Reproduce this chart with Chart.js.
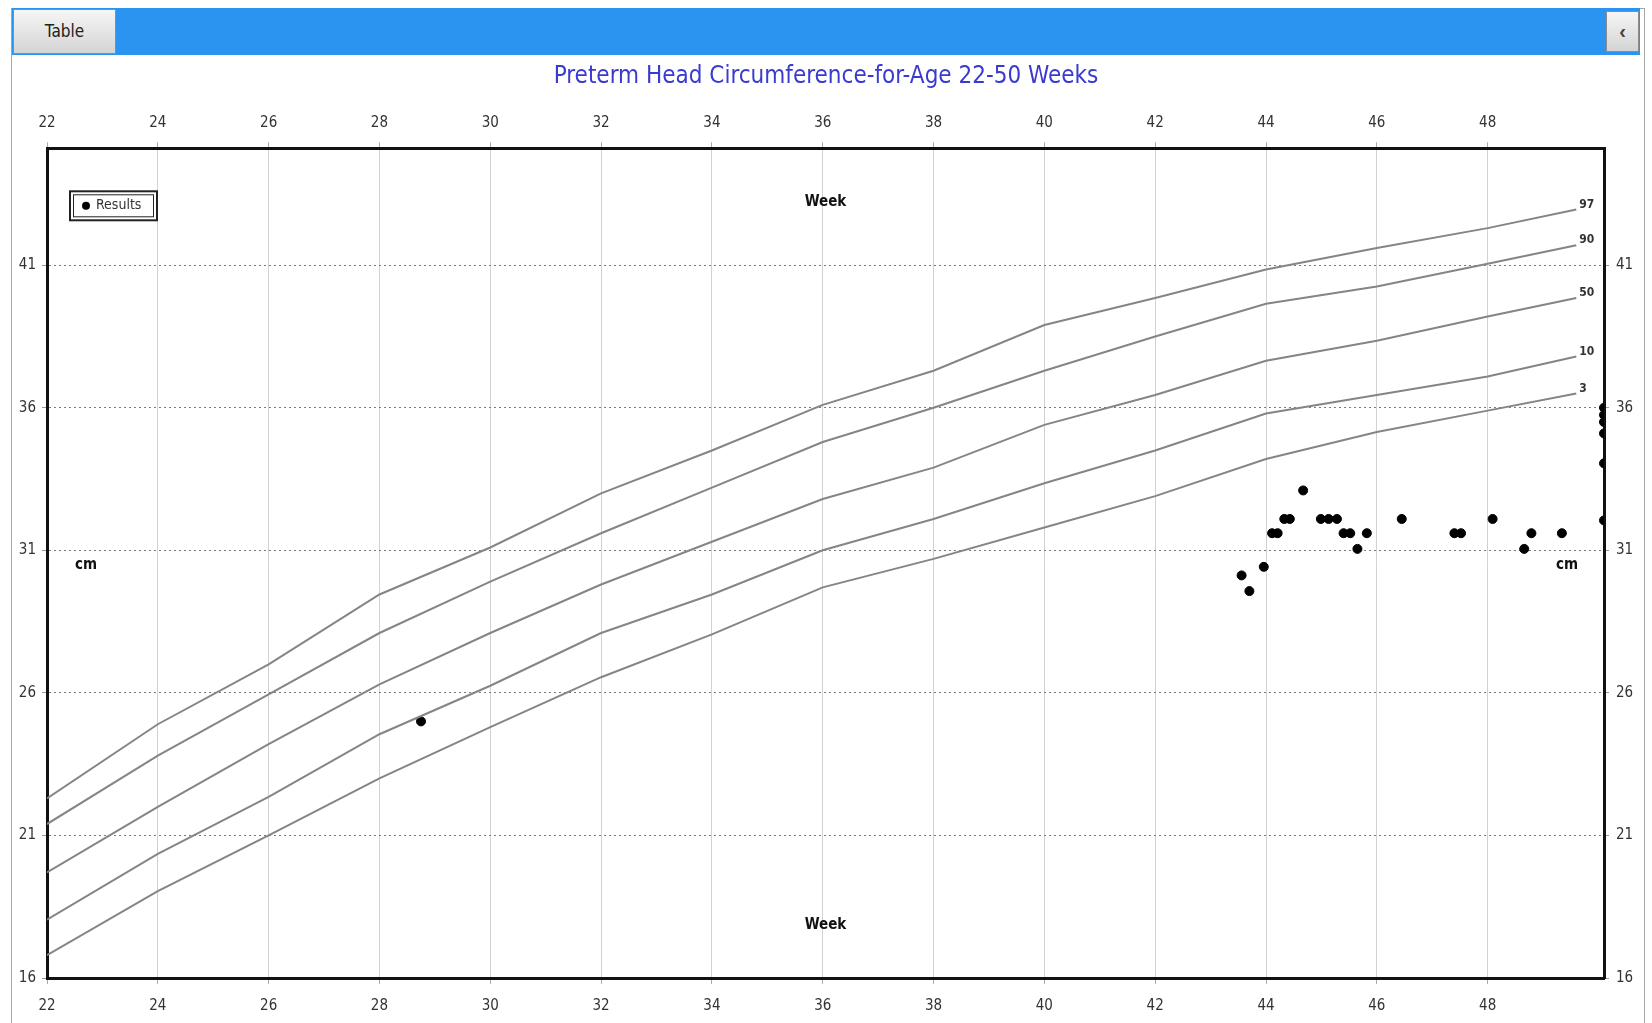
<!DOCTYPE html>
<html>
<head>
<meta charset="utf-8">
<script src="https://cdn.jsdelivr.net/npm/chart.js@4.4.1/dist/chart.umd.min.js"></script>
<style>
  html, body { margin: 0; padding: 0; background: #fff; }
  body { width: 1652px; height: 1023px; position: relative; overflow: hidden; }
  #c { position: absolute; left: 0; top: 0; }
  #frame { position: absolute; left: 11px; top: 8px; width: 1634px; height: 1020px; border: 1px solid #a6a6a6; box-sizing: border-box; z-index: 1; pointer-events: none; }
  #bar { position: absolute; left: 12px; top: 8px; width: 1628px; height: 47px; background: #2a94f0; z-index: 2; }
  #tableBtn { position: absolute; left: 13px; top: 9px; width: 103px; height: 45px; background: linear-gradient(#f6f6f6, #d4d4d4); border: 1px solid #8c8c8c; box-sizing: border-box; z-index: 3;
    font: 17px 'Liberation Sans Narrow', 'DejaVu Sans Condensed', 'Liberation Sans', sans-serif; color: #222; text-align: center; line-height: 43px; }
  #sideBtn { position: absolute; left: 1606px; top: 11px; width: 33px; height: 41px; background: linear-gradient(#f6f6f6, #d4d4d4); border: 1px solid #8c8c8c; box-sizing: border-box; z-index: 3;
    font: bold 20px 'Liberation Sans', sans-serif; color: #444; text-align: center; line-height: 38px; }
</style>
</head>
<body>
<canvas id="c" width="1652" height="1023"></canvas>
<div id="frame"></div>
<div id="bar"></div>
<div id="tableBtn">Table</div>
<div id="sideBtn">‹</div>
<script>
const NARROW = "'Liberation Sans Narrow', 'DejaVu Sans Condensed', 'Liberation Sans', sans-serif";

// percentile reference curves, read at every second week
const curveWeeks = [22, 24, 26, 28, 30, 32, 34, 36, 38, 40, 42, 44, 46, 48, 49.6];
const p97 = [22.3, 24.9, 27.0, 29.45, 31.1, 33.0, 34.5, 36.1, 37.3, 38.9, 39.85, 40.85, 41.6, 42.3, 42.95];
const p90 = [21.4, 23.8, 25.95, 28.1, 29.9, 31.6, 33.2, 34.8, 36.0, 37.3, 38.5, 39.65, 40.25, 41.05, 41.7];
const p50 = [19.7, 22.0, 24.2, 26.3, 28.1, 29.8, 31.3, 32.8, 33.9, 35.4, 36.45, 37.65, 38.35, 39.2, 39.85];
const p10 = [18.05, 20.35, 22.35, 24.55, 26.25, 28.1, 29.45, 31.0, 32.1, 33.35, 34.5, 35.8, 36.45, 37.1, 37.8];
const p3 = [16.8, 19.05, 21.0, 23.0, 24.8, 26.55, 28.05, 29.7, 30.7, 31.8, 32.9, 34.2, 35.15, 35.9, 36.5];
const percentileNames = ['97', '90', '50', '10', '3'];
const percentileValues = [p97, p90, p50, p10, p3];

// measured results (the last ones sit on the right border)
const resultWeeks = [28.75, 43.56, 43.70, 43.96, 44.11, 44.21, 44.33, 44.43, 44.67, 44.99, 45.13, 45.28,
  45.40, 45.52, 45.65, 45.82, 46.45, 47.40, 47.52, 48.09, 48.66, 48.79, 49.34,
  50.1, 50.1, 50.1, 50.1, 50.1, 50.1];
const resultCm = [25.0, 30.12, 29.57, 30.42, 31.6, 31.6, 32.1, 32.1, 33.1, 32.1, 32.1, 32.1,
  31.6, 31.6, 31.05, 31.6, 32.1, 31.6, 31.6, 32.1, 31.05, 31.6, 31.6,
  36.0, 35.75, 35.5, 35.1, 34.05, 32.05];

const xTicks = [22, 24, 26, 28, 30, 32, 34, 36, 38, 40, 42, 44, 46, 48];
const yTicks = [16, 21, 26, 31, 36, 41];

const curveSets = percentileValues.map((vals, i) => ({
  label: percentileNames[i],
  data: curveWeeks.map((w, j) => ({ x: w, y: vals[j] })),
  showLine: true,
  borderColor: '#858585',
  borderWidth: 2,
  pointRadius: 0,
  tension: 0
}));

const resultSet = {
  label: 'Results',
  data: resultWeeks.map((w, i) => ({ x: w, y: resultCm[i] })),
  backgroundColor: '#000',
  borderColor: '#000',
  pointRadius: 4.5,
  showLine: false
};

const tickFont = { family: NARROW, size: 15 };

function fixTicks(list) {
  return scale => { scale.ticks = list.map(v => ({ value: v })); };
}

// text drawn inside the plot: curve names, axis words and the legend box
const overlayText = {
  id: 'overlayText',
  afterDatasetsDraw(chart) {
    const { ctx, chartArea: a } = chart;
    ctx.save();
    ctx.font = 'bold 12px ' + NARROW;
    ctx.fillStyle = '#333';
    ctx.textAlign = 'left';
    ctx.textBaseline = 'middle';
    percentileNames.forEach((name, i) => {
      const pts = chart.getDatasetMeta(i).data;
      const last = pts[pts.length - 1];
      ctx.fillText(name, last.x + 3, last.y - 5);
    });

    ctx.font = 'bold 15px ' + NARROW;
    ctx.fillStyle = '#111';
    ctx.textAlign = 'center';
    const cx = (a.left + a.right) / 2;
    const cy = (a.top + a.bottom) / 2;
    ctx.fillText('Week', cx, a.top + 54);
    ctx.fillText('Week', cx, a.bottom - 53);
    ctx.fillText('cm', a.left + 39, cy + 2);
    ctx.fillText('cm', a.right - 37, cy + 2);

    const lx = a.left + 23, ly = a.top + 43, lw = 87, lh = 29;
    ctx.strokeStyle = '#222';
    ctx.lineWidth = 2;
    ctx.strokeRect(lx, ly, lw, lh);
    ctx.lineWidth = 1;
    ctx.strokeRect(lx + 3.5, ly + 3.5, lw - 7, lh - 7);
    ctx.beginPath();
    ctx.arc(lx + 16, ly + lh / 2, 4, 0, Math.PI * 2);
    ctx.fillStyle = '#000';
    ctx.fill();
    ctx.font = '14px ' + NARROW;
    ctx.fillStyle = '#333';
    ctx.textAlign = 'left';
    ctx.fillText(resultSet.label, lx + 26, ly + lh / 2);
    ctx.restore();
  }
};

new Chart(document.getElementById('c'), {
  type: 'scatter',
  data: { datasets: [...curveSets, resultSet] },
  options: {
    responsive: false,
    animation: false,
    devicePixelRatio: 1,
    layout: { padding: 0 },
    plugins: {
      legend: { display: false },
      tooltip: { enabled: false },
      title: {
        display: true,
        text: 'Preterm Head Circumference-for-Age 22-50 Weeks',
        color: '#3a3ad0',
        font: { family: NARROW, size: 24, weight: 'normal' },
        padding: { top: 62.5, bottom: 8 }
      }
    },
    scales: {
      x: {
        type: 'linear', position: 'bottom', min: 22, max: 50.1,
        afterBuildTicks: fixTicks(xTicks),
        afterFit: s => { s.height = 45; },
        grid: { color: '#d2d2d2', lineWidth: 1, tickLength: 6, tickColor: '#aaa' },
        border: { display: true, color: '#111', width: 3 },
        ticks: { padding: 13, color: '#333', font: tickFont, maxRotation: 0, autoSkip: false }
      },
      x2: {
        type: 'linear', position: 'top', min: 22, max: 50.1,
        afterBuildTicks: fixTicks(xTicks),
        afterFit: s => { s.height = 49; },
        grid: { drawOnChartArea: false, tickLength: 6, tickColor: '#aaa' },
        border: { display: true, color: '#111', width: 3 },
        ticks: { padding: 10, color: '#333', font: tickFont, maxRotation: 0, autoSkip: false }
      },
      y: {
        type: 'linear', position: 'left', min: 16, max: 45.1,
        afterBuildTicks: fixTicks(yTicks),
        afterFit: s => { s.width = 47; },
        grid: { color: '#7a7a7a', lineWidth: 1, tickLength: 5, tickColor: '#999' },
        border: { display: true, color: '#111', width: 3, dash: [2, 3] },
        ticks: { padding: 6, color: '#333', font: tickFont, autoSkip: false }
      },
      y2: {
        type: 'linear', position: 'right', min: 16, max: 45.1,
        afterBuildTicks: fixTicks(yTicks),
        afterFit: s => { s.width = 48; },
        grid: { drawOnChartArea: false, tickLength: 5, tickColor: '#999' },
        border: { display: true, color: '#111', width: 3 },
        ticks: { padding: 7, color: '#333', font: tickFont, autoSkip: false }
      }
    }
  },
  plugins: [overlayText]
});
</script>
</body>
</html>
